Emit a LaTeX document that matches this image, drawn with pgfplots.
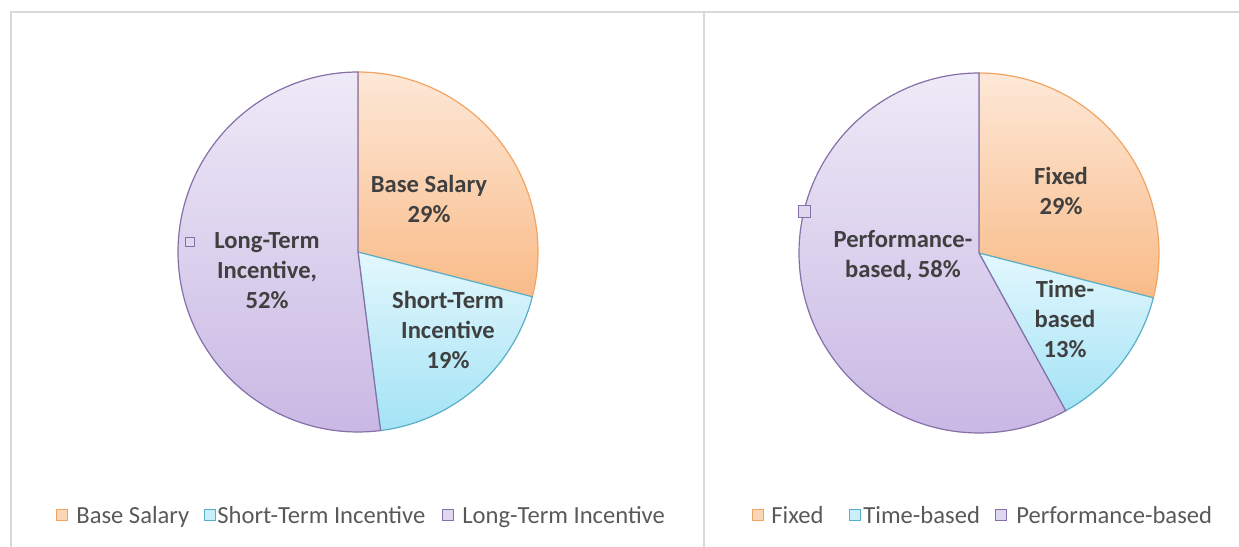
\documentclass[border=0pt]{standalone}
\usepackage{fontspec}
\setmainfont{Carlito}
\usepackage{pgfplots}
\pgfplotsset{compat=1.18}
\definecolor{orangetop}{HTML}{FDE8D7}
\definecolor{orangebot}{HTML}{F9BB88}
\definecolor{orangeline}{HTML}{F2A463}
\definecolor{cyantop}{HTML}{E3F7FD}
\definecolor{cyanbot}{HTML}{A3E3F5}
\definecolor{cyanline}{HTML}{5AAFC8}
\definecolor{purpletop}{HTML}{EEEAF7}
\definecolor{purplebot}{HTML}{C9B8E4}
\definecolor{purpleline}{HTML}{8570A8}
\definecolor{labeltext}{HTML}{404040}
\definecolor{legendtext}{HTML}{595959}
\definecolor{frame}{HTML}{D9D9D9}
% #1 cx, #2 cy, #3 cumulative share before slice, #4 share, #5 colour name
\newcommand{\pieslice}[5]{%
  \pgfmathsetmacro\angA{90-3.6*(#3+#4)}%
  \pgfmathsetmacro\angB{90-3.6*(#3)}%
  \addplot[draw=#5line, line width=0.6pt, top color=#5top, bottom color=#5bot,
    domain=\angA:\angB, samples=120, variable=\t]
    ({#1+180*cos(\t)},{#2+180*sin(\t)}) -- (axis cs:#1,#2) -- cycle;
}
\newcommand{\legsq}[4]{% x, y, colour, size
  \addplot[only marks, mark=square*, mark size=#4,
    mark options={fill=#3top!60!#3bot, draw=#3line, line width=0.5pt}]
    coordinates {(#1,#2)};
}
\begin{document}
\begin{tikzpicture}
\useasboundingbox (0,0) rectangle (619.5pt,273.5pt);
\begin{axis}[
  at={(0,0)}, anchor=south west,
  width=619.5pt, height=273.5pt, scale only axis,
  xmin=0, xmax=1239, ymin=0, ymax=547,
  hide axis, clip=false,
]
% frames
\addplot[draw=frame, line width=0.6pt] coordinates {(11,0) (11,535) (1239,535)};
\addplot[draw=frame, line width=1.4pt] coordinates {(704,0) (704,535)};

% left pie: Base Salary 29, Short-Term 19, Long-Term 52
\pieslice{358}{295}{0}{29}{orange}
\pieslice{358}{295}{29}{19}{cyan}
\pieslice{358}{295}{48}{52}{purple}

% right pie: Fixed 29, Time-based 13, Performance-based 58
\pieslice{979}{294}{0}{29}{orange}
\pieslice{979}{294}{29}{13}{cyan}
\pieslice{979}{294}{42}{58}{purple}

% data labels
\begin{scope}[every node/.style={font=\fontsize{12.3}{15}\selectfont\bfseries, text=labeltext, align=center, inner sep=0pt}]
\node at (axis cs:429,348) {Base Salary\\29\%};
\node at (axis cs:448,217) {Short-Term\\Incentive\\19\%};
\node at (axis cs:267,276) {Long-Term\\Incentive,\\52\%};
\node at (axis cs:1061,356) {Fixed\\29\%};
\node at (axis cs:1065,228) {Time-\\based\\13\%};
\node at (axis cs:903,291) {Performance-\\based, 58\%};
\end{scope}
\legsq{190}{305}{purple}{2.1pt}
\legsq{804}{335}{purple}{3pt}

% legends
\legsq{62}{32}{orange}{2.6pt}
\legsq{210}{32}{cyan}{2.6pt}
\legsq{448}{32}{purple}{2.6pt}
\legsq{758}{32}{orange}{2.6pt}
\legsq{855}{32}{cyan}{2.6pt}
\legsq{1001}{32}{purple}{2.6pt}
\begin{scope}[every node/.style={font=\fontsize{12.3}{14}\selectfont, text=legendtext, anchor=base west, inner sep=0pt}]
\node at (axis cs:76,24) {Base Salary};
\node at (axis cs:217,24) {Short-Term Incentive};
\node at (axis cs:462,24) {Long-Term Incentive};
\node at (axis cs:771,24) {Fixed};
\node at (axis cs:863,24) {Time-based};
\node at (axis cs:1016,24) {Performance-based};
\end{scope}
\end{axis}
\end{tikzpicture}
\end{document}
